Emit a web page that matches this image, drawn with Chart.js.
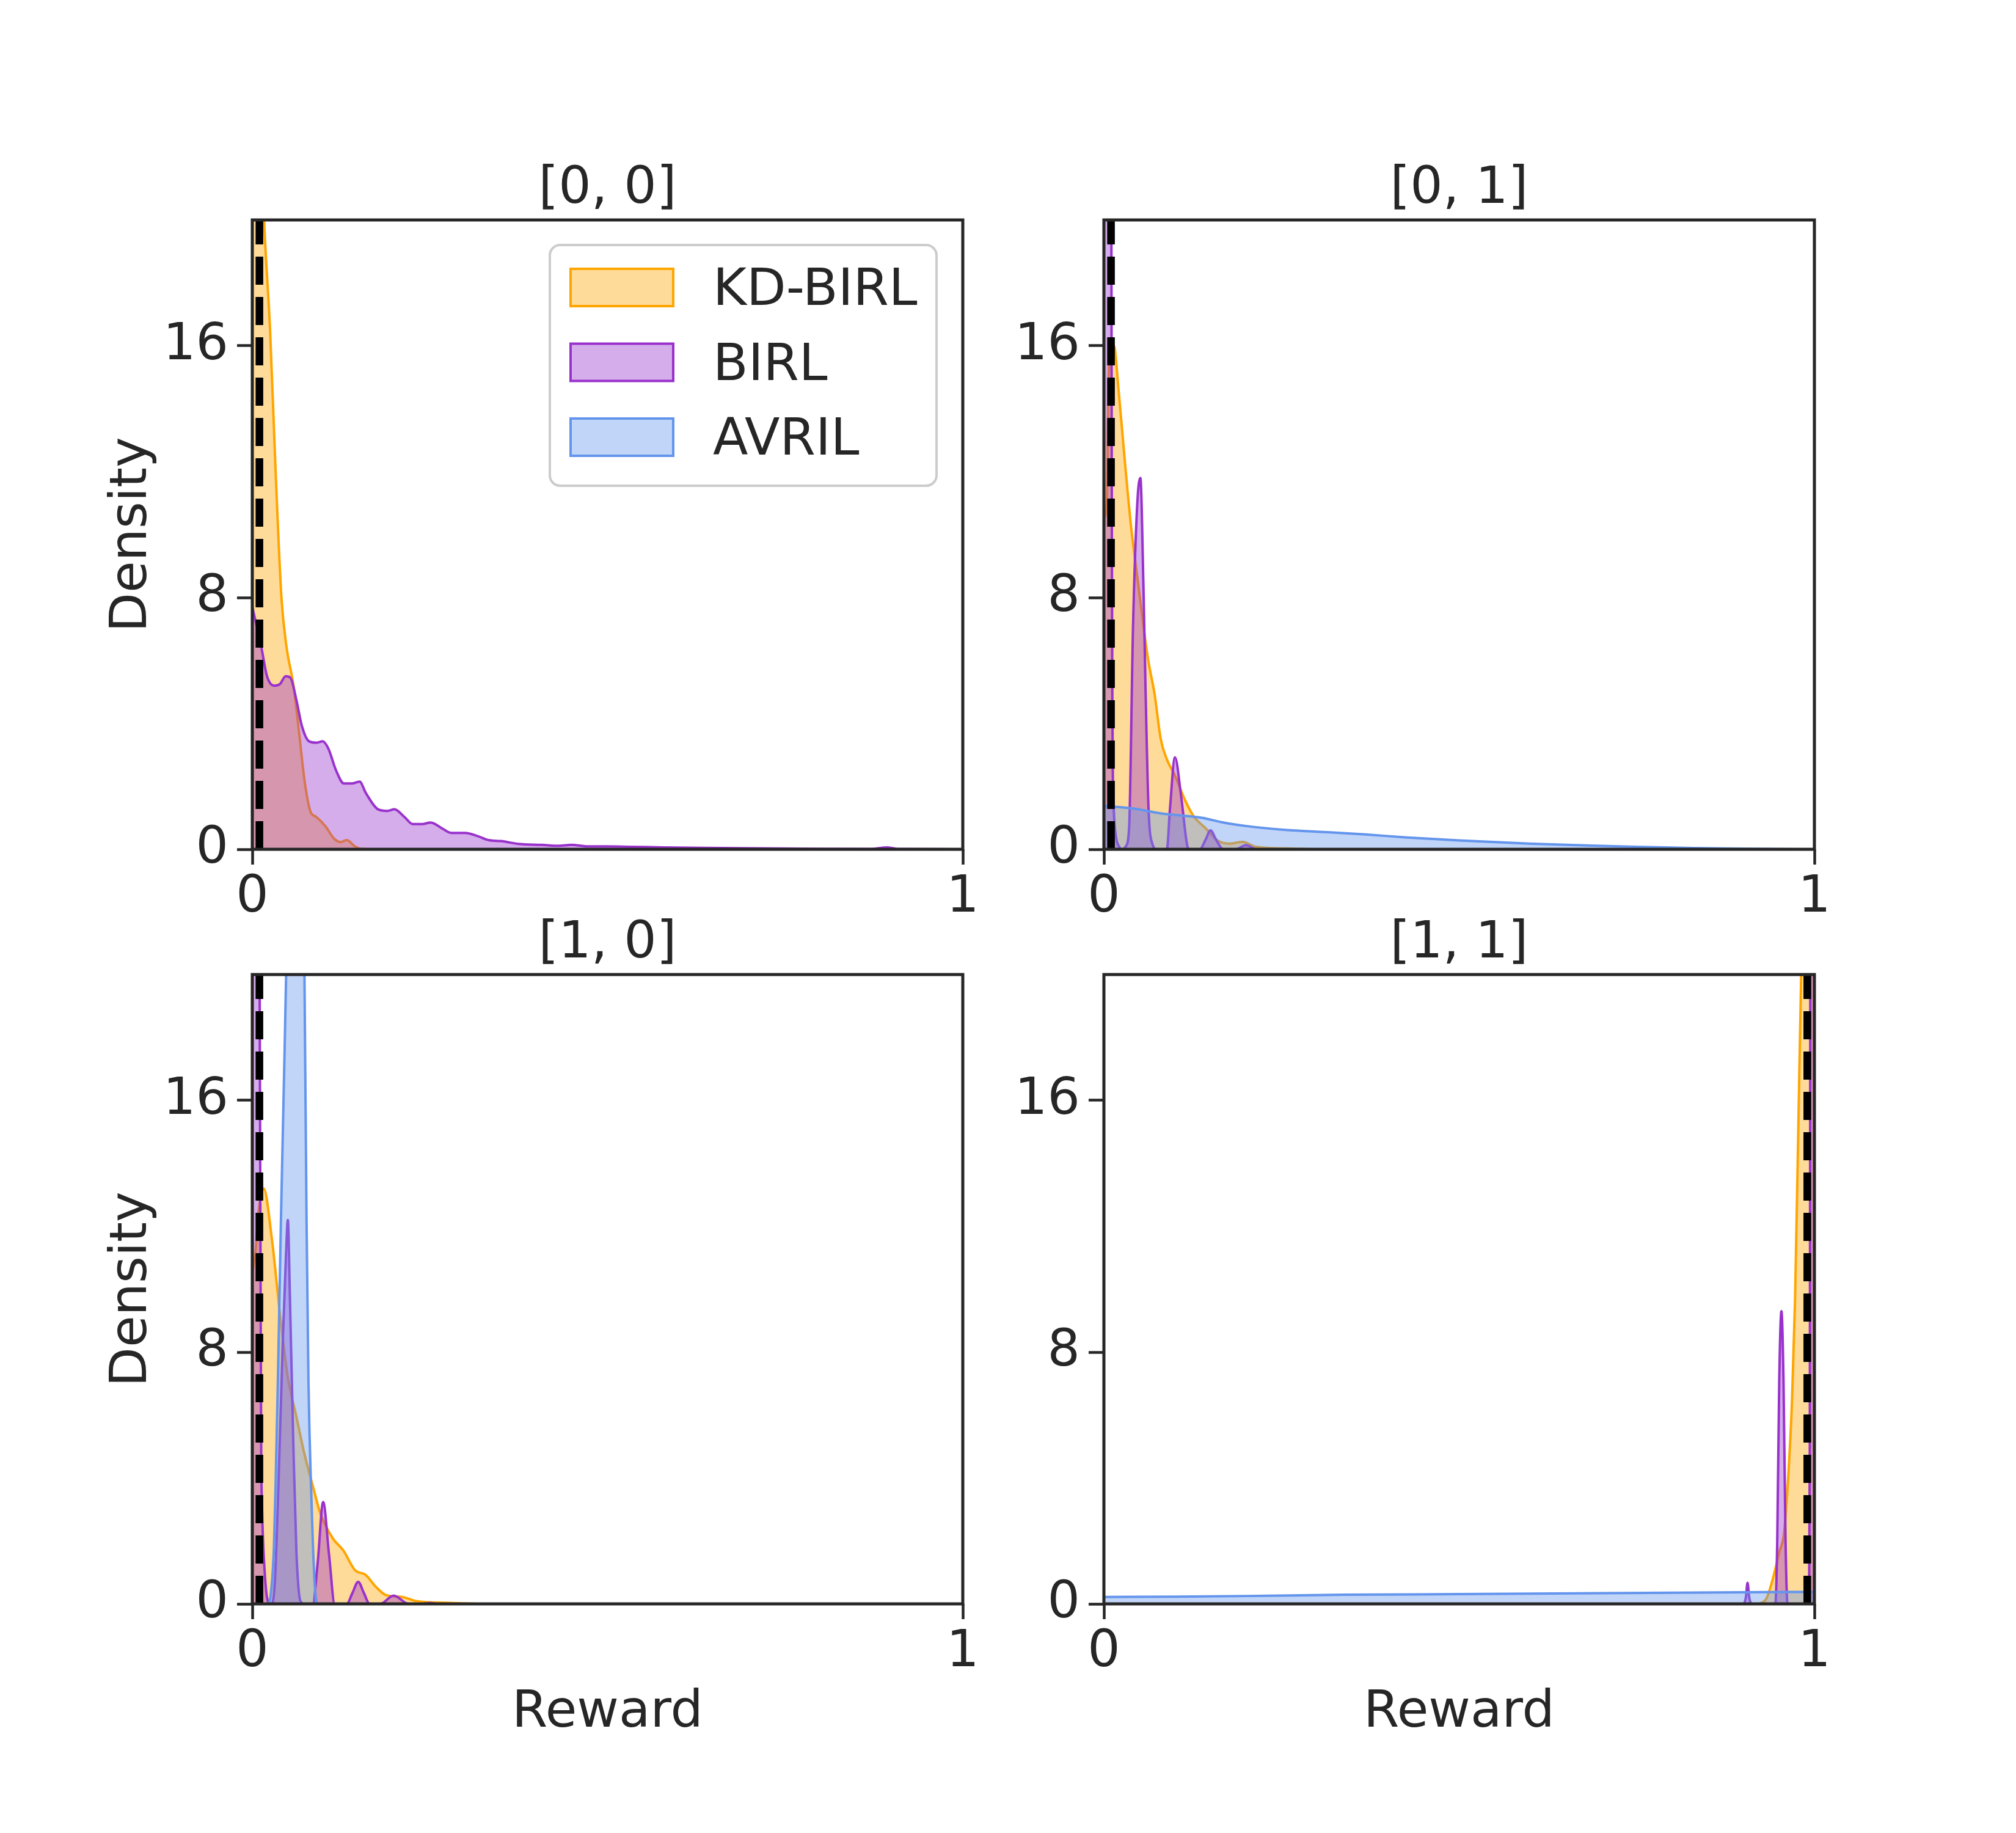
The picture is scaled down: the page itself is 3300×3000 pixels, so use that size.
<!DOCTYPE html>
<html>
<head>
<meta charset="utf-8">
<script src="https://cdn.jsdelivr.net/npm/chart.js@4.4.0/dist/chart.umd.min.js"></script>
<style>
  html, body { margin: 0; padding: 0; background: #fff; }
  #fig { position: relative; width: 3300px; height: 3000px; background: #fff; }
  #fig canvas { position: absolute; }
</style>
</head>
<body>
<div id="fig"></div>
<script>
const panelTitles = ["[0, 0]", "[0, 1]", "[1, 0]", "[1, 1]"];
const seriesNames = ["KD-BIRL", "BIRL", "AVRIL"];
const trueReward = [0.01, 0.01, 0.01, 0.99];
const xTicks = [0, 1];
const yTicks = [0, 8, 16];
const yMax = 20;

// [reward, density] pairs
const kdbirl00 = [[0,32],[0.008,26],[0.0166,20],[0.025,16.5],[0.033,11.9],[0.041,8.0],[0.048,6.45],[0.058,5.2],[0.066,3.67],[0.074,2.1],[0.082,1.19],[0.09,1.03],[0.103,0.73],[0.115,0.34],[0.124,0.23],[0.133,0.29],[0.144,0.1],[0.152,0.02],[0.17,0],[1,0]];
const birl00 = [[0,7.7],[0.0125,6.45],[0.0207,5.5],[0.0306,5.2],[0.0388,5.25],[0.047,5.5],[0.0537,5.45],[0.062,4.75],[0.07,3.9],[0.08,3.43],[0.0907,3.39],[0.099,3.43],[0.107,3.2],[0.118,2.5],[0.129,2.09],[0.14,2.09],[0.151,2.15],[0.16,1.78],[0.177,1.27],[0.19,1.22],[0.2,1.27],[0.214,1.03],[0.226,0.8],[0.239,0.8],[0.251,0.85],[0.268,0.65],[0.28,0.52],[0.3,0.52],[0.317,0.42],[0.333,0.29],[0.35,0.26],[0.375,0.17],[0.407,0.14],[0.432,0.11],[0.449,0.14],[0.473,0.09],[0.498,0.09],[0.531,0.08],[0.58,0.06],[0.638,0.045],[0.72,0.03],[0.8,0.015],[0.87,0.01],[0.893,0.06],[0.91,0.01],[0.96,0.005],[1,0]];
const avril00 = [];

const kdbirl01 = [[0,10.5],[0.004,11],[0.007,15.3],[0.014,16],[0.0206,14.6],[0.0292,12.4],[0.038,10.3],[0.0484,8.4],[0.057,6.85],[0.0628,5.95],[0.0714,4.92],[0.08,3.5],[0.0886,2.86],[0.1,2.34],[0.114,1.57],[0.126,1.06],[0.143,0.67],[0.16,0.28],[0.177,0.18],[0.195,0.24],[0.212,0.09],[0.252,0.03],[0.3,0],[1,0]];
const birl01 = [[0,40],[0.0095,30],[0.0105,20],[0.0112,10],[0.0118,5],[0.0125,2.5],[0.014,1.2],[0.017,0.4],[0.021,0.1],[0.026,0],[0.031,0.1],[0.0355,0.7],[0.041,7.1],[0.047,11],[0.0513,11.8],[0.0556,8.4],[0.0585,5.2],[0.0628,1.3],[0.0685,0.15],[0.074,0],[0.0886,0],[0.093,1.3],[0.1,2.92],[0.1086,1.7],[0.117,0.15],[0.12,0],[0.135,0],[0.143,0.3],[0.15,0.6],[0.158,0.3],[0.168,0],[0.185,0],[0.2,0.13],[0.215,0],[1,0]];
const avril01 = [[0,1.38],[0.04,1.3],[0.08,1.14],[0.138,1.0],[0.166,0.86],[0.2,0.74],[0.252,0.62],[0.3,0.56],[0.369,0.47],[0.424,0.38],[0.5,0.28],[0.599,0.18],[0.68,0.12],[0.752,0.08],[0.83,0.04],[0.906,0.02],[0.96,0.005],[1,0]];

const kdbirl10 = [[0,10.5],[0.0046,11.2],[0.009,12.5],[0.016,13.2],[0.0275,11.6],[0.039,9.2],[0.05,7.2],[0.062,5.95],[0.073,4.8],[0.085,3.76],[0.096,2.86],[0.113,2.09],[0.128,1.7],[0.145,1.06],[0.159,0.93],[0.174,0.54],[0.188,0.28],[0.211,0.22],[0.231,0.09],[0.28,0.03],[0.33,0],[1,0]];
const birl10 = [[0,40],[0.0095,30],[0.0103,20],[0.0117,10],[0.0125,5],[0.0138,3],[0.0175,1],[0.0218,0.1],[0.0275,0],[0.032,0.8],[0.036,3.2],[0.043,8.4],[0.0476,11.2],[0.05,12.2],[0.053,9.7],[0.0576,5.2],[0.062,1.7],[0.0676,0.1],[0.073,0],[0.085,0],[0.092,1.3],[0.0997,3.24],[0.108,1.57],[0.116,0],[0.133,0],[0.141,0.35],[0.149,0.7],[0.157,0.35],[0.165,0],[0.18,0],[0.199,0.26],[0.22,0],[0.24,0],[0.25,0.03],[0.26,0],[1,0]];
const avril10 = [[0,0],[0.022,0],[0.026,0.3],[0.0304,1.8],[0.033,4],[0.036,7.1],[0.0404,12.3],[0.0447,16.8],[0.0476,20],[0.052,27],[0.056,32],[0.0605,34],[0.065,32],[0.0695,27],[0.0734,20],[0.0763,12.3],[0.079,7.1],[0.0834,3.2],[0.0877,0.67],[0.092,0],[1,0]];

const kdbirl11 = [[0,0],[0.92,0],[0.924,0.02],[0.932,0.15],[0.94,0.67],[0.9513,1.7],[0.957,2.2],[0.9628,3.9],[0.9685,6.46],[0.9728,9.7],[0.9771,14.8],[0.9814,20],[0.99,28],[1,32]];
const birl11 = [[0,0],[0.9,0],[0.9035,0.2],[0.9059,0.67],[0.9083,0.2],[0.912,0],[0.945,0],[0.9477,2.0],[0.9505,7.1],[0.9536,9.3],[0.9565,7.1],[0.9594,2.0],[0.9622,0],[0.9925,0],[0.9935,5],[0.994,15],[0.9945,25],[1,40]];
const avril11 = [[0,0.22],[0.1,0.23],[0.2,0.25],[0.338,0.29],[0.5,0.31],[0.7,0.34],[0.9,0.37],[1,0.38]];

const panelData = [
  [kdbirl00, birl00, avril00],
  [kdbirl01, birl01, avril01],
  [kdbirl10, birl10, avril10],
  [kdbirl11, birl11, avril11]
];

const lineColors = ["#ffa500", "#9932cc", "#6495ed"];
const fillColors = ["rgba(255,165,0,0.4)", "rgba(153,50,204,0.4)", "rgba(100,149,237,0.4)"];

const FONT = "'DejaVu Sans', 'Liberation Sans', sans-serif";
const INK = "#262626";
const FS = 84;
const LH = "100px";

// page layout (px)
const plotW = 1163, plotH = 1030;
const plotLeft = [413, 1807], plotTop = [360, 1595];
const yAxisW = 263, padRight = 60, titleH = 100;
const xAxisH = [131, 229];

const textFont = { family: FONT, size: FS, weight: 'normal', lineHeight: LH };

const framePlugin = {
  id: 'frame',
  afterDatasetsDraw(chart) {
    const { ctx, chartArea: a } = chart;
    ctx.save();
    ctx.strokeStyle = INK;
    ctx.lineWidth = 5;
    ctx.strokeRect(a.left, a.top, a.right - a.left, a.bottom - a.top);
    ctx.restore();
  }
};

const boxLegend = {
  id: 'boxLegend',
  afterDraw(chart) {
    const { ctx, chartArea: a } = chart;
    const items = seriesNames.map(n => chart.data.datasets.find(d => d.label === n));
    const w = 633, h = 394;
    const bx = a.right - 43 - w, by = a.top + 41;
    ctx.save();
    ctx.beginPath();
    ctx.roundRect(bx, by, w, h, 17);
    ctx.fillStyle = 'rgba(255,255,255,0.8)';
    ctx.fill();
    ctx.lineWidth = 4;
    ctx.strokeStyle = '#cccccc';
    ctx.stroke();
    ctx.font = FS + 'px ' + FONT;
    ctx.textBaseline = 'alphabetic';
    ctx.textAlign = 'left';
    items.forEach((ds, i) => {
      const top = by + 39 + i * 122.5;
      ctx.fillStyle = ds.backgroundColor;
      ctx.fillRect(bx + 34, top, 168, 61);
      ctx.strokeStyle = ds.borderColor;
      ctx.lineWidth = 4;
      ctx.strokeRect(bx + 34, top, 168, 61);
      ctx.fillStyle = INK;
      ctx.fillText(ds.label, bx + 267, top + 59);
    });
    ctx.restore();
  }
};

const fig = document.getElementById('fig');

panelTitles.forEach((title, p) => {
  const row = p >> 1, col = p & 1;
  const canvas = document.createElement('canvas');
  const W = yAxisW + plotW + padRight;
  const H = titleH + plotH + xAxisH[row];
  canvas.width = W;
  canvas.height = H;
  canvas.style.left = (plotLeft[col] - yAxisW) + 'px';
  canvas.style.top = (plotTop[row] - titleH) + 'px';
  fig.appendChild(canvas);

  const datasets = panelData[p].map((pts, s) => ({
    label: seriesNames[s],
    data: pts.map(([x, y]) => ({ x, y })),
    borderColor: lineColors[s],
    backgroundColor: fillColors[s],
    borderWidth: 4,
    fill: 'origin',
    pointRadius: 0,
    cubicInterpolationMode: 'monotone',
    order: 3 - s
  }));
  datasets.push({
    label: 'true reward',
    data: [{ x: trueReward[p], y: 0 }, { x: trueReward[p], y: yMax }],
    borderColor: '#000000',
    borderWidth: 12.5,
    borderDash: [46, 20],
    fill: false,
    pointRadius: 0,
    tension: 0,
    order: 0
  });

  const axisGrid = {
    display: true, drawOnChartArea: false, drawTicks: true,
    tickLength: 25, tickWidth: 4.5, tickColor: INK
  };

  new Chart(canvas, {
    type: 'line',
    data: { datasets },
    plugins: p === 0 ? [framePlugin, boxLegend] : [framePlugin],
    options: {
      responsive: false,
      animation: false,
      devicePixelRatio: 1,
      events: [],
      layout: { padding: { left: 0, right: padRight, top: 0, bottom: 0 } },
      plugins: {
        legend: { display: false },
        tooltip: { enabled: false },
        title: {
          display: true, text: title, color: INK, fullSize: false,
          font: textFont, padding: 0
        }
      },
      scales: {
        x: {
          type: 'linear', min: 0, max: 1,
          afterBuildTicks: s => { s.ticks = xTicks.map(v => ({ value: v })); },
          afterFit: s => { s.height = xAxisH[row]; },
          grid: axisGrid,
          border: { display: false },
          ticks: { autoSkip: false, maxRotation: 0, padding: 5, color: INK, font: textFont },
          title: {
            display: row === 1, text: 'Reward', color: INK,
            font: textFont, padding: { top: 0, bottom: 0 }
          }
        },
        y: {
          type: 'linear', min: 0, max: yMax,
          afterBuildTicks: s => { s.ticks = yTicks.map(v => ({ value: v })); },
          afterFit: s => { s.width = yAxisW; },
          grid: axisGrid,
          border: { display: false },
          ticks: { autoSkip: false, padding: 14, color: INK, font: textFont },
          title: {
            display: col === 0, text: 'Density', color: INK,
            font: textFont, padding: { top: 17, bottom: 0 }
          }
        }
      }
    }
  });
});
</script>
</body>
</html>
